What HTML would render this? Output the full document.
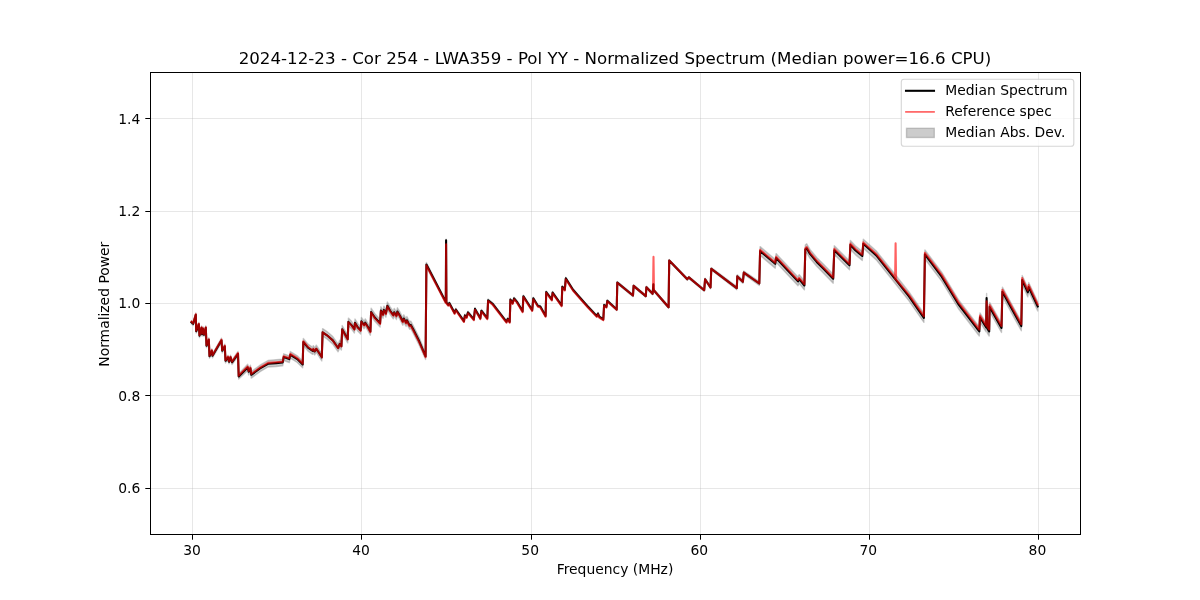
<!DOCTYPE html>
<html><head><meta charset="utf-8"><title>Normalized Spectrum</title>
<style>
html,body{margin:0;padding:0;background:#fff;}
svg{display:block;font-family:"DejaVu Sans","Liberation Sans",sans-serif;}
</style></head><body>
<svg width="1200" height="600" viewBox="0 0 1200 600">
<rect width="1200" height="600" fill="#fff"/>
<g stroke="#b0b0b0" stroke-opacity="0.3" stroke-width="1" fill="none"><line x1="192.50" y1="72.5" x2="192.50" y2="534.5"/><line x1="361.50" y1="72.5" x2="361.50" y2="534.5"/><line x1="531.50" y1="72.5" x2="531.50" y2="534.5"/><line x1="700.50" y1="72.5" x2="700.50" y2="534.5"/><line x1="869.50" y1="72.5" x2="869.50" y2="534.5"/><line x1="1038.50" y1="72.5" x2="1038.50" y2="534.5"/><line x1="150.5" y1="488.50" x2="1080.5" y2="488.50"/><line x1="150.5" y1="395.50" x2="1080.5" y2="395.50"/><line x1="150.5" y1="303.50" x2="1080.5" y2="303.50"/><line x1="150.5" y1="211.50" x2="1080.5" y2="211.50"/><line x1="150.5" y1="118.50" x2="1080.5" y2="118.50"/></g>
<clipPath id="c"><rect x="150" y="72" width="930" height="462"/></clipPath>
<g clip-path="url(#c)">
<polygon points="191.5,320.4 193.2,321.9 195.8,312.9 196.2,329.4 198.8,322.4 199.5,333.9 201.5,325.9 202.1,332.4 203.0,326.8 204.0,332.8 205.8,325.8 206.5,343.8 208.8,337.8 209.5,354.3 211.8,348.8 212.5,353.8 221.5,338.2 222.2,348.7 224.8,344.2 225.5,358.7 228.0,355.2 229.0,359.6 230.5,355.1 232.0,360.1 238.0,351.4 238.7,373.8 247.7,364.2 248.7,368.5 250.4,365.2 251.3,371.6 260.0,365.2 268.0,360.5 276.0,359.8 282.7,359.1 283.7,353.8 289.3,355.8 290.4,351.5 297.3,355.8 302.7,361.0 303.3,338.5 308.0,344.1 312.7,347.3 313.3,345.6 314.7,347.8 316.3,345.2 318.0,347.7 321.8,353.6 322.6,328.6 327.0,331.5 332.8,336.6 338.1,344.2 339.8,340.1 341.4,342.4 342.2,325.5 345.1,330.7 347.7,335.3 348.4,318.1 351.5,321.3 354.4,325.4 355.0,319.0 357.9,323.7 360.6,326.5 361.4,317.5 364.1,321.2 365.3,318.9 367.8,323.0 370.4,327.7 371.1,308.2 374.8,313.7 380.1,319.5 380.9,306.7 383.0,310.7 383.9,306.1 385.9,309.6 387.4,302.0 390.0,306.7 393.3,311.3 394.2,308.4 396.4,311.9 397.4,307.8 399.9,311.9 402.8,317.7 403.8,314.8 406.1,318.9 406.9,316.5 409.6,321.7 410.8,321.1 413.3,325.8 419.2,337.5 425.6,353.3 426.4,262.5 445.8,300.9 446.1,239.1 446.4,301.3 448.2,303.7 449.3,301.9 454.6,311.8 455.8,308.3 463.9,320.0 464.9,314.2 466.6,315.9 468.0,311.2 473.8,318.2 475.0,307.7 480.3,317.1 481.4,309.5 487.3,317.1 488.1,299.0 492.5,302.5 506.5,320.6 507.7,317.7 509.7,320.7 510.4,298.5 512.6,302.0 514.1,297.3 517.0,300.8 522.6,310.2 523.4,295.2 532.2,309.0 533.3,297.3 538.0,304.9 540.3,305.5 545.6,314.8 546.2,290.9 551.8,298.5 552.6,291.5 561.6,304.3 562.3,285.7 564.8,288.6 565.8,277.3 573.0,288.6 578.2,294.6 587.5,305.1 596.8,315.0 598.0,312.4 599.2,315.6 603.3,318.4 604.1,304.0 606.4,305.8 607.3,299.7 616.7,308.5 617.3,281.5 633.0,294.4 633.6,284.8 645.8,295.1 646.4,286.3 652.6,292.7 653.4,283.4 653.4,287.0 653.8,289.2 668.6,306.2 669.2,259.5 687.3,278.2 688.8,276.4 704.2,289.2 705.1,278.1 710.5,286.3 711.3,267.6 736.8,286.5 737.3,274.8 742.9,280.1 743.8,271.0 759.3,281.6 760.1,246.6 775.2,259.4 776.1,253.6 798.0,276.9 799.2,274.6 804.4,281.0 805.3,245.0 806.7,243.8 810.0,249.4 816.7,257.4 823.3,264.1 833.2,274.2 834.3,245.7 849.5,260.9 850.4,240.5 855.3,245.7 862.3,251.6 863.3,239.3 876.3,251.0 895.0,274.3 909.0,291.9 923.9,313.3 924.9,249.9 941.7,272.2 958.3,299.4 979.3,326.9 980.0,312.9 986.1,322.8 986.6,293.4 987.3,324.0 989.2,326.9 989.6,302.4 1001.5,323.4 1002.4,287.2 1021.3,321.6 1022.2,275.5 1027.8,287.8 1028.7,282.5 1037.7,301.8 1037.7,311.0 1028.7,291.7 1027.8,296.9 1022.2,284.7 1021.3,330.7 1002.4,296.3 1001.5,332.5 989.6,311.5 989.2,336.0 987.3,333.1 986.6,302.6 986.1,331.9 980.0,322.0 979.3,336.0 958.3,308.5 941.7,281.2 924.9,259.0 923.9,322.4 909.0,300.9 895.0,283.3 876.3,259.9 863.3,248.2 862.3,260.5 855.3,254.6 850.4,249.4 849.5,269.8 834.3,254.6 833.2,283.2 823.3,273.0 816.7,266.3 810.0,258.3 806.7,252.7 805.3,253.9 804.4,289.9 799.2,283.5 798.0,285.8 776.1,262.4 775.2,268.2 760.1,255.4 759.3,285.5 743.8,274.3 742.9,283.4 737.3,278.0 736.8,289.7 711.3,270.0 710.5,288.7 705.1,280.3 704.2,291.3 688.8,278.4 687.3,280.2 669.2,261.5 668.6,308.2 653.8,291.3 653.4,289.0 653.4,285.4 652.6,294.8 646.4,288.3 645.8,297.1 633.6,287.0 633.0,296.6 617.3,283.6 616.7,310.6 607.3,301.9 606.4,308.0 604.1,306.1 603.3,320.5 599.2,317.8 598.0,314.6 596.8,317.2 587.5,307.3 578.2,296.8 573.0,290.8 565.8,279.5 564.8,290.8 562.3,287.9 561.6,306.5 552.6,293.7 551.8,300.7 546.2,293.1 545.6,317.0 540.3,307.7 538.0,307.1 533.3,299.5 532.2,311.2 523.4,297.4 522.6,312.4 517.0,303.0 514.1,299.5 512.6,304.2 510.4,300.7 509.7,322.9 507.7,320.1 506.5,323.0 492.5,304.9 488.1,301.4 487.3,319.5 481.4,311.9 480.3,319.5 475.0,310.1 473.8,320.6 468.0,313.6 466.6,318.3 464.9,316.6 463.9,322.4 455.8,310.7 454.6,314.2 449.3,304.3 448.2,306.1 446.4,303.7 446.1,241.5 445.8,303.3 426.4,266.7 425.6,359.5 419.2,345.1 413.3,333.4 410.8,328.7 409.6,329.3 406.9,324.1 406.1,326.5 403.8,322.4 402.8,325.3 399.9,319.5 397.4,315.4 396.4,319.5 394.2,316.0 393.3,318.9 390.0,314.3 387.4,309.6 385.9,317.2 383.9,313.7 383.0,318.3 380.9,314.3 380.1,327.1 374.8,321.3 371.1,315.8 370.4,335.3 367.8,330.6 365.3,326.5 364.1,328.8 361.4,325.1 360.6,334.1 357.9,331.3 355.0,326.6 354.4,333.0 351.5,328.9 348.4,325.7 347.7,342.9 345.1,338.3 342.2,333.1 341.4,350.0 339.8,347.7 338.1,351.8 332.8,344.2 327.0,339.0 322.6,336.0 321.8,361.0 318.0,355.0 316.3,352.4 314.7,355.0 313.3,352.7 312.7,354.4 308.0,351.1 303.3,345.4 302.7,367.8 297.3,362.5 290.4,358.2 289.3,362.5 283.7,360.5 282.7,365.8 276.0,366.5 268.0,367.0 260.0,371.7 251.3,378.1 250.4,371.7 248.7,375.0 247.7,370.7 238.7,379.0 238.0,356.4 232.0,364.5 230.5,359.5 229.0,363.9 228.0,359.4 225.5,362.9 224.8,348.4 222.2,352.9 221.5,342.4 212.5,357.8 211.8,352.8 209.5,358.2 208.8,341.7 206.5,347.7 205.8,329.7 204.0,336.7 203.0,330.7 202.1,336.2 201.5,329.7 199.5,337.6 198.8,326.1 196.2,333.1 195.8,316.6 193.2,325.6 191.5,324.1" fill="#808080" fill-opacity="0.4" stroke="#808080" stroke-opacity="0.4" stroke-width="1.39" stroke-linejoin="round"/>
<polyline points="191.5,322.3 193.2,323.8 195.8,314.8 196.2,331.3 198.8,324.3 199.5,335.8 201.5,327.8 202.1,334.3 203.0,328.8 204.0,334.8 205.8,327.8 206.5,345.8 208.8,339.8 209.5,356.3 211.8,350.8 212.5,355.8 221.5,340.3 222.2,350.8 224.8,346.3 225.5,360.8 228.0,357.3 229.0,361.8 230.5,357.3 232.0,362.3 238.0,353.9 238.7,376.4 247.7,367.4 248.7,371.8 250.4,368.4 251.3,374.8 260.0,368.4 268.0,363.8 276.0,363.1 282.7,362.4 283.7,357.1 289.3,359.1 290.4,354.8 297.3,359.1 302.7,364.4 303.3,342.0 308.0,347.6 312.7,350.9 313.3,349.2 314.7,351.4 316.3,348.8 318.0,351.3 321.8,357.3 322.6,332.3 327.0,335.3 332.8,340.4 338.1,348.0 339.8,343.9 341.4,346.2 342.2,329.3 345.1,334.5 347.7,339.1 348.4,321.9 351.5,325.1 354.4,329.2 355.0,322.8 357.9,327.5 360.6,330.3 361.4,321.3 364.1,325.0 365.3,322.7 367.8,326.8 370.4,331.5 371.1,312.0 374.8,317.5 380.1,323.3 380.9,310.5 383.0,314.5 383.9,309.9 385.9,313.4 387.4,305.8 390.0,310.5 393.3,315.1 394.2,312.2 396.4,315.7 397.4,311.6 399.9,315.7 402.8,321.5 403.8,318.6 406.1,322.7 406.9,320.3 409.6,325.5 410.8,324.9 413.3,329.6 419.2,341.3 425.6,356.4 426.4,264.6 445.8,302.1 446.1,240.3 446.4,302.5 448.2,304.9 449.3,303.1 454.6,313.0 455.8,309.5 463.9,321.2 464.9,315.4 466.6,317.1 468.0,312.4 473.8,319.4 475.0,308.9 480.3,318.3 481.4,310.7 487.3,318.3 488.1,300.2 492.5,303.7 506.5,321.8 507.7,318.9 509.7,321.8 510.4,299.6 512.6,303.1 514.1,298.4 517.0,301.9 522.6,311.3 523.4,296.3 532.2,310.1 533.3,298.4 538.0,306.0 540.3,306.6 545.6,315.9 546.2,292.0 551.8,299.6 552.6,292.6 561.6,305.4 562.3,286.8 564.8,289.7 565.8,278.4 573.0,289.7 578.2,295.7 587.5,306.2 596.8,316.1 598.0,313.5 599.2,316.7 603.3,319.5 604.1,305.1 606.4,306.9 607.3,300.8 616.7,309.6 617.3,282.6 633.0,295.5 633.6,285.9 645.8,296.1 646.4,287.3 652.6,293.8 653.4,284.4 653.4,288.0 653.8,290.2 668.6,307.2 669.2,260.5 687.3,279.2 688.8,277.4 704.2,290.2 705.1,279.2 710.5,287.5 711.3,268.8 736.8,288.1 737.3,276.4 742.9,281.7 743.8,272.6 759.3,283.5 760.1,251.0 775.2,263.8 776.1,258.0 798.0,281.4 799.2,279.1 804.4,285.5 805.3,249.5 806.7,248.3 810.0,253.9 816.7,261.9 823.3,268.6 833.2,278.7 834.3,250.2 849.5,265.3 850.4,244.9 855.3,250.2 862.3,256.0 863.3,243.7 876.3,255.4 895.0,278.8 909.0,296.4 923.9,317.8 924.9,254.4 941.7,276.7 958.3,304.0 979.3,331.4 980.0,317.4 986.1,327.3 986.6,298.0 987.3,328.5 989.2,331.4 989.6,306.9 1001.5,327.9 1002.4,291.7 1021.3,326.1 1022.2,280.1 1027.8,292.3 1028.7,287.1 1037.7,306.4" fill="none" stroke="#000" stroke-width="2.08" stroke-linejoin="round" stroke-linecap="square"/>
<polyline points="191.5,321.7 193.2,323.2 195.8,314.2 196.2,330.7 198.8,323.7 199.5,335.2 201.5,327.2 202.1,333.7 203.0,328.2 204.0,334.2 205.8,327.2 206.5,345.2 208.8,339.2 209.5,355.7 211.8,350.2 212.5,355.2 221.5,339.7 222.2,350.2 224.8,345.7 225.5,360.2 228.0,356.7 229.0,361.2 230.5,356.7 232.0,361.7 238.0,353.1 238.7,375.6 247.7,366.6 248.7,370.9 250.4,367.6 251.3,373.9 260.0,367.6 268.0,362.9 276.0,362.2 282.7,361.6 283.7,356.2 289.3,358.2 290.4,353.9 297.3,358.2 302.7,363.6 303.3,341.2 308.0,347.0 312.7,350.5 313.3,348.8 314.7,351.2 316.3,348.6 318.0,351.3 321.8,357.3 322.6,332.3 327.0,335.3 332.8,340.6 338.1,348.2 339.8,344.1 341.4,346.4 342.2,329.5 345.1,334.9 347.7,339.5 348.4,322.3 351.5,325.5 354.4,329.6 355.0,323.2 357.9,327.9 360.6,330.9 361.4,321.9 364.1,325.6 365.3,323.3 367.8,327.4 370.4,332.1 371.1,312.6 374.8,318.1 380.1,323.9 380.9,311.1 383.0,315.1 383.9,310.5 385.9,314.0 387.4,306.4 390.0,311.1 393.3,315.7 394.2,312.8 396.4,316.3 397.4,312.2 399.9,316.3 402.8,322.1 403.8,319.2 406.1,323.3 406.9,321.1 409.6,326.3 410.8,325.7 413.3,330.4 419.2,342.1 425.6,357.2 426.4,265.4 445.8,302.9 446.1,244.3 446.4,303.3 448.2,305.7 449.3,303.9 454.6,313.8 455.8,310.3 463.9,322.0 464.9,316.2 466.6,317.9 468.0,313.2 473.8,320.2 475.0,309.7 480.3,319.1 481.4,311.5 487.3,319.1 488.1,301.0 492.5,304.5 506.5,322.6 507.7,319.7 509.7,322.6 510.4,300.4 512.6,303.9 514.1,299.2 517.0,302.7 522.6,312.1 523.4,297.1 532.2,310.9 533.3,299.2 538.0,306.8 540.3,307.4 545.6,316.7 546.2,292.8 551.8,300.4 552.6,293.4 561.6,306.2 562.3,287.6 564.8,290.5 565.8,279.2 573.0,290.5 578.2,296.5 587.5,307.0 596.8,316.9 598.0,314.3 599.2,317.5 603.3,320.1 604.1,305.7 606.4,307.5 607.3,301.4 616.7,309.8 617.3,282.8 633.0,295.5 633.6,285.9 645.8,296.1 646.4,287.3 652.6,293.8 653.0,291.0 653.5,256.9 654.0,291.0 653.4,288.0 653.8,290.2 668.6,307.2 669.2,260.5 687.3,279.2 688.8,277.4 704.2,290.2 705.1,279.2 710.5,287.5 711.3,268.8 736.8,288.1 737.3,276.4 742.9,281.7 743.8,272.6 759.3,283.3 760.1,249.8 775.2,262.6 776.1,256.8 798.0,280.1 799.2,277.8 804.4,284.2 805.3,248.2 806.7,247.0 810.0,252.6 816.7,260.6 823.3,267.3 833.2,277.4 834.3,248.8 849.5,264.0 850.4,243.6 855.3,248.8 862.3,254.7 863.3,242.4 876.3,254.1 895.0,277.3 895.1,279.0 895.6,243.3 896.1,279.5 909.0,294.8 923.9,316.2 924.9,252.8 941.7,274.9 958.3,302.1 979.3,329.5 980.0,315.5 986.1,325.4 986.6,301.4 987.3,326.6 989.2,329.5 989.6,305.0 1001.5,326.0 1002.4,289.8 1021.3,324.2 1022.2,278.1 1027.8,290.4 1028.7,285.1 1037.7,304.4" fill="none" stroke="#ff0000" stroke-opacity="0.62" stroke-width="2.08" stroke-linejoin="round" stroke-linecap="square"/>
</g>
<g stroke="#000" stroke-width="1" fill="none"><line x1="192.50" y1="534.5" x2="192.50" y2="539.70"/><line x1="361.50" y1="534.5" x2="361.50" y2="539.70"/><line x1="531.50" y1="534.5" x2="531.50" y2="539.70"/><line x1="700.50" y1="534.5" x2="700.50" y2="539.70"/><line x1="869.50" y1="534.5" x2="869.50" y2="539.70"/><line x1="1038.50" y1="534.5" x2="1038.50" y2="539.70"/><line x1="145.30" y1="488.50" x2="150.5" y2="488.50"/><line x1="145.30" y1="395.50" x2="150.5" y2="395.50"/><line x1="145.30" y1="303.50" x2="150.5" y2="303.50"/><line x1="145.30" y1="211.50" x2="150.5" y2="211.50"/><line x1="145.30" y1="118.50" x2="150.5" y2="118.50"/></g>
<rect x="150.5" y="72.5" width="930" height="462" fill="none" stroke="#000" stroke-width="1"/>
<g font-size="13.89px" fill="#000"><text x="191.97" y="554.9" text-anchor="middle">30</text><text x="361.06" y="554.9" text-anchor="middle">40</text><text x="530.15" y="554.9" text-anchor="middle">50</text><text x="699.25" y="554.9" text-anchor="middle">60</text><text x="868.34" y="554.9" text-anchor="middle">70</text><text x="1037.43" y="554.9" text-anchor="middle">80</text><text x="140.3" y="493.10" text-anchor="end">0.6</text><text x="140.3" y="400.70" text-anchor="end">0.8</text><text x="140.3" y="308.30" text-anchor="end">1.0</text><text x="140.3" y="215.90" text-anchor="end">1.2</text><text x="140.3" y="123.50" text-anchor="end">1.4</text>
<text x="615" y="574" text-anchor="middle">Frequency (MHz)</text>
<text transform="translate(109.2,304.2) rotate(-90)" text-anchor="middle">Normalized Power</text>
</g>
<text x="615" y="64.2" text-anchor="middle" font-size="16.67px" letter-spacing="0.012px" fill="#000">2024-12-23 - Cor 254 - LWA359 - Pol YY - Normalized Spectrum (Median power=16.6 CPU)</text>
<g>
<rect x="901.3" y="79.2" width="172.5" height="67.1" rx="2.8" ry="2.8" fill="#fff" fill-opacity="0.8" stroke="#ccc" stroke-opacity="0.8" stroke-width="1.11"/>
<line x1="906" y1="90.8" x2="934" y2="90.8" stroke="#000" stroke-width="2.08" stroke-linecap="square"/>
<line x1="906" y1="111.9" x2="934" y2="111.9" stroke="#ff0000" stroke-opacity="0.62" stroke-width="1.7" stroke-linecap="square"/>
<rect x="906.5" y="128.3" width="27.8" height="9.2" fill="#808080" fill-opacity="0.4" stroke="#808080" stroke-opacity="0.4" stroke-width="1.39"/>
<g font-size="13.89px" fill="#000">
<text x="945.3" y="95.3">Median Spectrum</text>
<text x="945.3" y="116.2">Reference spec</text>
<text x="945.3" y="137.1">Median Abs. Dev.</text>
</g></g>
</svg>
</body></html>
